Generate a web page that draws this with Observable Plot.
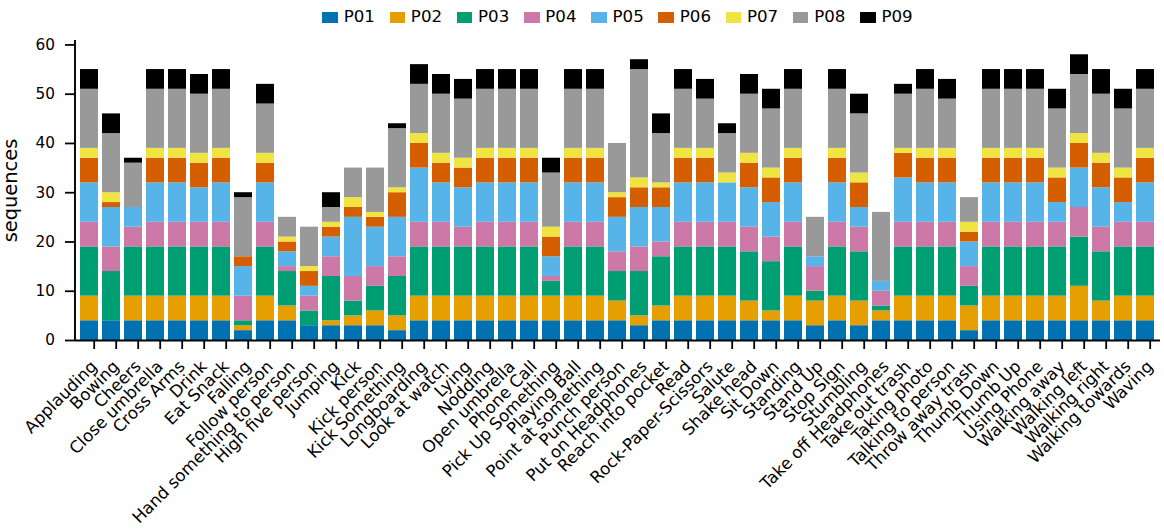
<!DOCTYPE html>
<html>
<head>
<meta charset="utf-8">
<script src="https://cdn.jsdelivr.net/npm/d3@7"></script>
<script src="https://cdn.jsdelivr.net/npm/@observablehq/plot@0.6"></script>
<style>
  html, body { margin: 0; padding: 0; background: #fff; }
  body { width: 1164px; height: 532px; overflow: hidden; font-family: "DejaVu Sans", sans-serif; }
  #legend { height: 35px; margin-left: 75px; width: 1085px; display: flex; justify-content: center; align-items: center; gap: 14.7px; font-size: 16.67px; color: #000; line-height: 1; }
  .item { display: flex; align-items: center; }
  .sw { width: 15.6px; height: 11px; margin-right: 5.7px; }
</style>
</head>
<body>
<div id="legend"></div>
<div id="chart"></div>
<script>
const categories = ["Applauding","Bowing","Cheers","Close umbrella","Cross Arms","Drink","Eat Snack","Falling","Follow person","Hand something to person",
  "High five person","Jumping","Kick","Kick person","Kick Something","Longboarding","Look at watch","Lying","Nodding","Open umbrella",
  "Phone Call","Pick Up Something","Playing Ball","Point at something","Punch person","Put on Headphones","Reach into pocket","Read","Rock-Paper-Scissors","Salute",
  "Shake head","Sit Down","Standing","Stand Up","Stop Sign","Stumbling","Take off Headphones","Take out trash","Taking photo","Talking to person",
  "Throw away trash","Thumb Down","Thumb Up","Using Phone","Walking away","Walking left","Walking right","Walking towards","Waving"];

const seriesNames = ["P01","P02","P03","P04","P05","P06","P07","P08","P09"];
const palette = ["#0072B2","#E69F00","#009E73","#CC79A7","#56B4E9","#D55E00","#F0E442","#999999","#000000"];

const P01 = [4,4,4,4,4,4,4,2,4,4, 3,3,3,3,2,4,4,4,4,4, 4,4,4,4,4,3,4,4,4,4, 4,4,4,3,4,3,4,4,4,4, 2,4,4,4,4,4,4,4,4];
const P02 = [5,0,5,5,5,5,5,1,5,3, 0,1,2,3,3,5,5,5,5,5, 5,5,5,5,4,2,3,5,5,5, 4,2,5,5,5,5,2,5,5,5, 5,5,5,5,5,7,4,5,5];
const P03 = [10,10,10,10,10,10,10,1,10,7, 3,9,3,5,8,10,10,10,10,10, 10,3,10,10,6,9,10,10,10,10, 10,10,10,2,10,10,1,10,10,10, 4,10,10,10,10,10,10,10,10];
const P04 = [5,5,4,5,5,5,5,5,5,1, 3,4,5,4,4,5,5,4,5,5, 5,1,5,5,4,5,3,5,5,5, 5,5,5,5,5,5,3,5,5,5, 4,5,5,5,5,6,5,5,5];
const P05 = [8,8,4,8,8,7,8,6,8,3, 2,4,12,8,8,11,8,8,8,8, 8,4,8,8,7,8,7,8,8,8, 8,7,8,2,8,4,2,9,8,8, 5,8,8,8,4,8,8,4,8];
const P06 = [5,1,0,5,5,5,5,2,4,2, 3,2,2,2,5,5,4,4,5,5, 5,4,5,5,4,4,4,5,5,0, 5,5,5,0,5,5,0,5,5,5, 2,5,5,5,5,5,5,5,5];
const P07 = [2,2,0,2,2,2,2,0,2,1, 1,1,2,1,1,2,2,2,2,2, 2,2,2,2,1,2,1,2,2,2, 2,2,2,0,2,2,0,1,2,2, 2,2,2,2,2,2,2,2,2];
const P08 = [12,12,9,12,12,12,12,12,10,4, 8,3,6,9,12,10,12,12,12,12, 12,11,12,12,10,22,10,12,10,8, 12,12,12,8,12,12,14,11,12,10, 5,12,12,12,12,12,12,12,12];
const P09 = [4,4,1,4,4,4,4,1,4,0, 0,3,0,0,1,4,4,4,4,4, 4,3,4,4,0,2,4,4,4,2, 4,4,4,0,4,4,0,2,4,4, 0,4,4,4,4,4,5,4,4];

const yTicks = [0, 10, 20, 30, 40, 50, 60];
const yLabel = "sequences";

const seriesValues = [P01, P02, P03, P04, P05, P06, P07, P08, P09];
const rows = [];
categories.forEach((c, i) => {
  seriesNames.forEach((s, j) => rows.push({category: c, series: s, value: seriesValues[j][i]}));
});

// legend
const legend = d3.select("#legend");
seriesNames.forEach((s, j) => {
  const it = legend.append("div").attr("class", "item");
  it.append("div").attr("class", "sw").style("background", palette[j]);
  it.append("span").text(s);
});

const chart = Plot.plot({
  width: 1164,
  height: 497,
  marginTop: 5,
  marginBottom: 192,
  marginLeft: 75,
  marginRight: 4,
  style: {fontFamily: "DejaVu Sans, sans-serif", fontSize: "15.28px", background: "#fff", color: "#000", overflow: "visible"},
  x: {domain: categories, paddingInner: 0.18, paddingOuter: 0.18, label: null},
  y: {domain: [0, 60.9], label: null},
  color: {domain: seriesNames, range: palette},
  marks: [
    Plot.barY(rows, {x: "category", y: "value", fill: "series", order: seriesNames}),
    Plot.axisY({ticks: yTicks, tickSize: 10, tickPadding: 10.5, strokeWidth: 1.8, label: null, fontSize: 15.28}),
    Plot.axisX({tickSize: 9, tickPadding: 14.2, tickRotate: -45, textAnchor: "end", strokeWidth: 1.8, label: null, fontSize: 16.67, dx: 4.7}),
    Plot.ruleY([0], {strokeWidth: 1.9}),
    Plot.text([yLabel], {frameAnchor: "left", dx: -64.7, rotate: -90, fontSize: 19.4, textAnchor: "middle"})
  ]
});
document.getElementById("chart").appendChild(chart);

// left spine drawn from the y scale's range
const ys = chart.scale("y");
const [yBottom, yTop] = ys.range;
d3.select(chart).append("line")
  .attr("x1", 75).attr("x2", 75)
  .attr("y1", yTop).attr("y2", yBottom + 0.95)
  .attr("stroke", "#000").attr("stroke-width", 1.9);
</script>
</body>
</html>
